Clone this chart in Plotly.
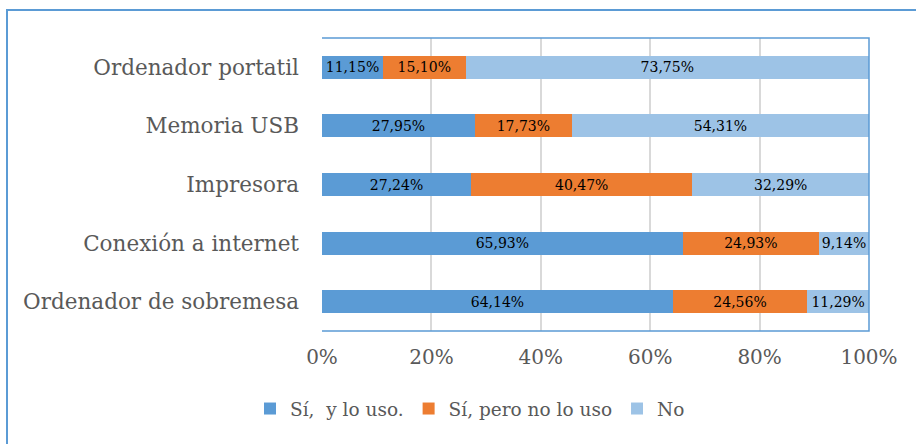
import plotly.graph_objects as go

categories = ["Ordenador de sobremesa", "Conexión a internet", "Impresora", "Memoria USB", "Ordenador portatil"]
si_uso = [64.14, 65.93, 27.24, 27.95, 11.15]
si_no_uso = [24.56, 24.93, 40.47, 17.73, 15.10]
no = [11.29, 9.14, 32.29, 54.31, 73.75]
series_names = ["Sí,\u00a0 y lo uso.", "Sí, pero no lo uso", "No"]
colors = ["#5b9bd5", "#ed7d31", "#9dc3e6"]
tick_vals = [0, 20, 40, 60, 80, 100]
tick_text = ["0%", "20%", "40%", "60%", "80%", "100%"]

FONT = "DejaVu Serif"

def fmt(v):
    return f"{v:.2f}".replace(".", ",") + "%"

fig = go.Figure()
for name, vals, col in zip(series_names, [si_uso, si_no_uso, no], colors):
    fig.add_trace(go.Bar(
        y=categories, x=vals, name=name, orientation="h",
        marker=dict(color=col, line=dict(width=0)),
        text=[fmt(v) for v in vals], textposition="inside",
        insidetextanchor="middle", constraintext="none",
        textfont=dict(family=FONT, size=14, color="#000000"),
        width=0.39, hoverinfo="skip",
    ))

W, H = 916, 444
l, r, t, b = 322, W - 869, 38, H - 331
pw, ph = W - l - r, H - t - b

fig.update_layout(
    width=W, height=H, barmode="stack",
    margin=dict(l=l, r=r, t=t, b=b, autoexpand=False),
    paper_bgcolor="white", plot_bgcolor="white",
    font=dict(family=FONT, color="#595959", size=19),
    xaxis=dict(range=[0, 100], tickmode="array", tickvals=tick_vals, ticktext=tick_text,
               showgrid=True, gridcolor="#d9d9d9", gridwidth=2,
               zeroline=False, showline=False,
               tickfont=dict(family=FONT, size=20, color="#595959"),
               ticks="", ticklabelstandoff=12, fixedrange=True, automargin=False),
    yaxis=dict(showgrid=False, zeroline=False, showline=False,
               tickfont=dict(family=FONT, size=21.5, color="#595959"),
               ticks="", ticklabelstandoff=22, fixedrange=True, automargin=False),
    legend=dict(orientation="h", x=(470 - l) / pw, xanchor="center",
                y=(331 - 409) / ph, yanchor="middle",
                font=dict(family=FONT, size=18.5, color="#595959"),
                traceorder="normal"),
    showlegend=True,
    shapes=[
        dict(type="path", xref="paper", yref="paper",
             path="M0,1 L1,1 L1,0 L0,0",
             line=dict(color="#5b9bd5", width=1.5), layer="above"),
        dict(type="rect", xref="paper", yref="paper",
             x0=(7 - l) / pw, x1=1.2, y0=-0.6, y1=(331 - 10) / ph,
             line=dict(color="#5b9bd5", width=2), layer="below"),
    ],
)

fig.write_html("out.html")
